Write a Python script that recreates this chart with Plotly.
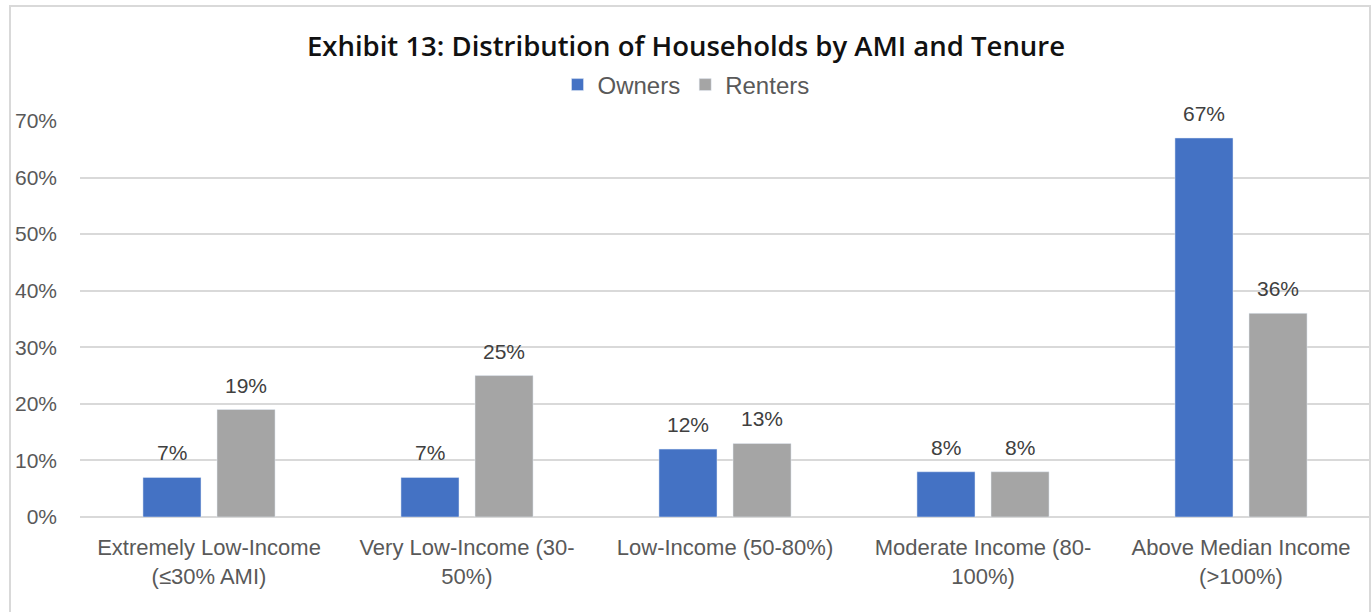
import plotly.graph_objects as go

categories = [
    "Extremely Low-Income<br>(≤30% AMI)",
    "Very Low-Income (30-<br>50%)",
    "Low-Income (50-80%)",
    "Moderate Income (80-<br>100%)",
    "Above Median Income<br>(>100%)",
]
owners = [0.07, 0.07, 0.12, 0.08, 0.67]
renters = [0.19, 0.25, 0.13, 0.08, 0.36]
y_ticks = [0, 0.1, 0.2, 0.3, 0.4, 0.5, 0.6, 0.7]

FONT = "Liberation Sans"
BARGAP = 0.426
GROUPGAP = 0.216
PLOT_W = 1290
SLOT_PX = PLOT_W / len(categories) * (1 - BARGAP) / 2

fig = go.Figure()
fig.add_trace(go.Bar(name="Owners", x=categories, y=owners, marker_color="#4472C4"))
fig.add_trace(go.Bar(name="Renters", x=categories, y=renters, marker_color="#A5A5A5"))

# value labels above each bar
for values, side in ((owners, -1), (renters, 1)):
    for cat, v in zip(categories, values):
        fig.add_annotation(
            x=cat, y=v, text=f"{v:.0%}", showarrow=False,
            xshift=side * SLOT_PX / 2, yshift=11, yanchor="bottom",
            font=dict(size=21, color="#404040", family=FONT),
        )

fig.update_layout(
    width=1372, height=612,
    margin=dict(l=80, r=2, t=121, b=95),
    paper_bgcolor="white", plot_bgcolor="white",
    font=dict(family=FONT, color="#595959"),
    bargap=BARGAP, bargroupgap=GROUPGAP,
    title=dict(
        text="Exhibit 13: Distribution of Households by AMI and Tenure",
        xref="container", x=0.5, xanchor="center",
        yref="container", y=1 - 46 / 612, yanchor="middle",
        font=dict(size=27.5, color="#111111", family="Open Sans", weight=600),
    ),
    legend=dict(
        orientation="h", xref="container", x=0.5, xanchor="center",
        yref="container", y=1 - 85 / 612, yanchor="middle",
        font=dict(size=24, color="#595959", family=FONT),
        itemwidth=30, tracegroupgap=0,
    ),
    showlegend=True,
)

fig.update_yaxes(
    range=[0, 0.7], tickvals=y_ticks, tickformat=".0%",
    showgrid=True, gridcolor="#D9D9D9", gridwidth=2,
    zeroline=True, zerolinecolor="#D9D9D9", zerolinewidth=2,
    tickfont=dict(size=21, color="#595959", family=FONT),
    ticklabelstandoff=22, showline=False,
)
fig.update_xaxes(
    showline=False, tickangle=0,
    tickfont=dict(size=22, color="#595959", family=FONT),
    ticklabelstandoff=15,
)

# chart frame
fig.add_shape(
    type="rect", xref="paper", yref="paper",
    x0=(10 - 80) / PLOT_W, x1=1.0, y0=-0.5, y1=(517 - 6) / 396,
    line=dict(color="#D9D9D9", width=2), fillcolor="rgba(0,0,0,0)", layer="below",
)

fig.write_html("out.html")
